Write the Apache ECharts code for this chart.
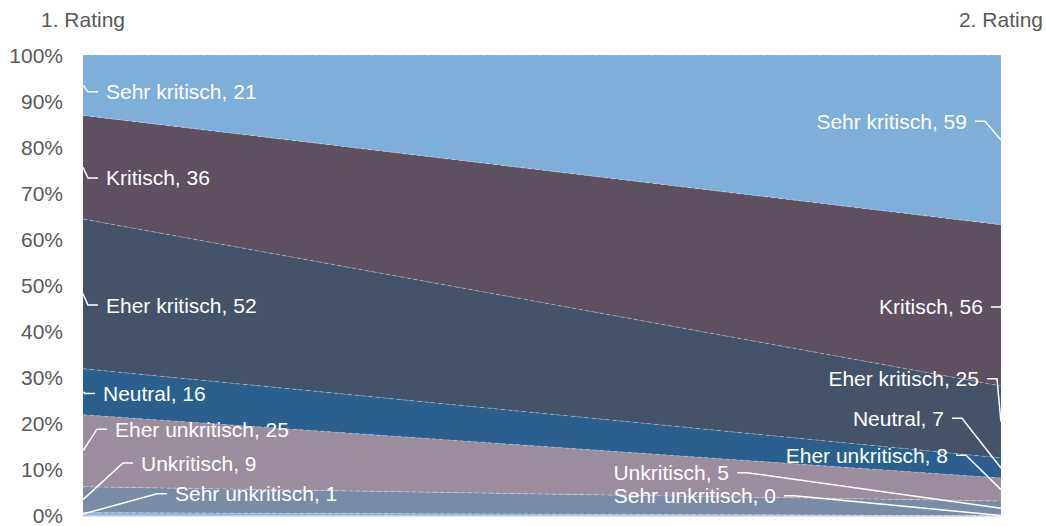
<!DOCTYPE html>
<html>
<head>
<meta charset="utf-8">
<script src="https://cdn.jsdelivr.net/npm/echarts@6/dist/echarts.min.js"></script>
<style>
html,body{margin:0;padding:0;background:#fff;}
#chart{width:1046px;height:526px;}
</style>
</head>
<body>
<div id="chart"></div>
<script>
// ---- data ----
var categories = ['1. Rating', '2. Rating'];
var seriesNames = ['Sehr unkritisch', 'Unkritisch', 'Eher unkritisch', 'Neutral', 'Eher kritisch', 'Kritisch', 'Sehr kritisch'];
var rating1 = [1, 9, 25, 16, 52, 36, 21];
var rating2 = [0, 5, 8, 7, 25, 56, 59];
var yTicks = [0, 10, 20, 30, 40, 50, 60, 70, 80, 90, 100];

// ---- styles / layout ----
var colors = ['#8DB4DC', '#7A8BA8', '#9B8D9D', '#2A5F8E', '#45536A', '#5E5060', '#7FAED9'];
// label y-position (in axis %) and elbow offset (px) for the leader lines
var leftLabelPct  = [4.7, 11.4, 18.75, 26.5, 45.7, 73.3, 92.0];
var leftElbowDx   = [74, 40, 14, 2, 5, 5, 5];
var rightLabelPct = [4.3, 9.3, 13.1, 21.1, 29.7, 45.3, 85.6];
var rightElbowDx  = [-207, -254, -35, -39, -4, 0, -16];
var FONT = 'Liberation Sans, Arial, sans-serif';

var total1 = rating1.reduce(function(a,b){return a+b;},0);
var total2 = rating2.reduce(function(a,b){return a+b;},0);
var pct1 = rating1.map(function(v){return v/total1*100;});
var pct2 = rating2.map(function(v){return v/total2*100;});

var series = seriesNames.map(function(name, i){
  return {
    name: name,
    type: 'line',
    stack: 'total',
    symbol: 'none',
    silent: true,
    lineStyle: {width: 1, color: 'rgba(255,255,255,0.35)', type: [4, 3]},
    areaStyle: {color: colors[i], opacity: 1},
    itemStyle: {color: colors[i]},
    data: [pct1[i], pct2[i]],
    z: 2
  };
});

// label items: [xIndex, midPct, labelPct, elbowDx, side]
var labelData = [];
function addLabels(pcts, counts, labelPct, elbowDx, xIdx) {
  var cum = 0;
  for (var i = 0; i < pcts.length; i++) {
    var mid = cum + pcts[i] / 2;
    cum += pcts[i];
    labelData.push({
      value: [xIdx, mid, labelPct[i], elbowDx[i]],
      text: seriesNames[i] + ', ' + counts[i]
    });
  }
}
addLabels(pct1, rating1, leftLabelPct, leftElbowDx, 0);
addLabels(pct2, rating2, rightLabelPct, rightElbowDx, 1);

series.push({
  type: 'custom',
  coordinateSystem: 'cartesian2d',
  clip: false,
  silent: true,
  z: 10,
  data: labelData,
  renderItem: function(params, api) {
    var item = labelData[params.dataIndex];
    var xi = api.value(0);
    var anchor = api.coord([xi, api.value(1)]);
    var lab = api.coord([xi, api.value(2)]);
    var dx = api.value(3);
    var dir = xi === 0 ? 1 : -1;
    var ex = anchor[0] + dx;
    var sx = ex + dir * 10;
    var tx = ex + dir * 18;
    return {
      type: 'group',
      children: [
        {type: 'polyline', shape: {points: [[anchor[0], anchor[1]], [ex, lab[1]], [sx, lab[1]]]},
         style: {stroke: '#ffffff', lineWidth: 1.5, fill: null}},
        {type: 'text', x: tx, y: lab[1],
         style: {text: item.text, fill: '#ffffff', font: '21px ' + FONT,
                 align: dir === 1 ? 'left' : 'right', verticalAlign: 'middle'}}
      ]
    };
  }
});

var chart = echarts.init(document.getElementById('chart'), null, {renderer: 'svg'});
chart.setOption({
  animation: false,
  grid: {left: 83, right: 45, top: 55, bottom: 7, containLabel: false},
  xAxis: [{
    type: 'category', data: categories, boundaryGap: false, position: 'top',
    axisLine: {show: false}, axisTick: {show: false}, splitLine: {show: false},
    axisLabel: {color: '#595959', fontSize: 21, fontFamily: FONT, margin: 25, interval: 0}
  }, {
    type: 'category', data: categories, boundaryGap: false, position: 'bottom',
    axisLine: {show: true, lineStyle: {color: '#D9D9D9', width: 1.5}},
    axisTick: {show: false}, axisLabel: {show: false}, splitLine: {show: false}
  }],
  yAxis: {
    type: 'value', min: yTicks[0], max: yTicks[yTicks.length-1], interval: yTicks[1]-yTicks[0],
    axisLine: {show: false}, axisTick: {show: false}, splitLine: {show: false},
    axisLabel: {color: '#595959', fontSize: 21, fontFamily: FONT, margin: 20, formatter: '{value}%'}
  },
  series: series
});
</script>
</body>
</html>
